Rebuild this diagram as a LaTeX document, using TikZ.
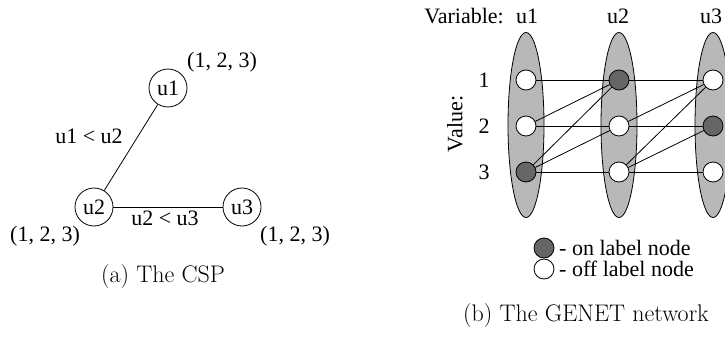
\documentclass[tikz,border=0pt]{standalone}
\usepackage{fontspec}
\newfontfamily\tms{Liberation Serif}
\usetikzlibrary{shapes.geometric}
\tikzset{
  glbl/.style={font=\tms\fontsize{22}{26}\selectfont, inner sep=0pt},
  gcaption/.style={font=\fontsize{24}{28}\selectfont, inner sep=0pt},
  gvar/.style={circle, draw, line width=0.8pt, minimum size=38pt, inner sep=0pt, font=\tms\fontsize{22}{26}\selectfont},
  gconn/.style={line width=0.8pt},
  gdom/.style={ellipse, draw, line width=0.8pt, fill=black!28, minimum width=36pt, minimum height=185pt, inner sep=0pt},
  goff/.style={circle, draw, line width=0.8pt, fill=white, minimum size=20pt, inner sep=0pt},
  gon/.style={circle, draw, line width=0.8pt, fill=black!60, minimum size=20pt, inner sep=0pt},
}
\begin{document}
\begin{tikzpicture}[x=1pt, y=-1pt]
\useasboundingbox (0,0) rectangle (725,337);
\clip (0,0) rectangle (725,337);
% (a) The CSP
\node[gvar] (u1) at (168,88) {u1};
\node[gvar] (u2) at (94,207) {u2};
\node[gvar] (u3) at (242,207) {u3};
\draw[gconn] (u1) -- (u2);
\draw[gconn] (u2) -- (u3);
\node[glbl] (d1) at (222,62) {(1, 2, 3)};
\node[glbl] (d2) at (45,236) {(1, 2, 3)};
\node[glbl] (d3) at (295,236) {(1, 2, 3)};
\node[glbl] (c12) at (89,136) {u1 < u2};
\node[glbl] (c23) at (165,218) {u2 < u3};
\node[gcaption] (capa) at (163,277) {(a) The CSP};
% (b) GENET
\node[glbl, anchor=east] (vart) at (504,16) {Variable:};
\node[glbl] (h1) at (527,16) {u1};
\node[glbl] (h2) at (618,16) {u2};
\node[glbl] (h3) at (711,16) {u3};
\node[gdom] (e1) at (526,125) {};
\node[gdom] (e2) at (619,125) {};
\node[gdom] (e3) at (713,125) {};
\node[glbl] (r1) at (484,80) {1};
\node[glbl] (r2) at (484,126) {2};
\node[glbl] (r3) at (484,172) {3};
\node[glbl, rotate=90] (valt) at (455,124) {Value:};
\node[goff] (a1) at (526,80) {};
\node[goff] (a2) at (526,126) {};
\node[gon]  (a3) at (526,172) {};
\node[gon]  (b1) at (619,80) {};
\node[goff] (b2) at (619,126) {};
\node[goff] (b3) at (619,172) {};
\node[goff] (c1) at (713,80) {};
\node[gon]  (c2) at (713,126) {};
\node[goff] (c3) at (713,172) {};
\foreach \i/\j in {1/1,2/1,2/2,3/1,3/2,3/3}{
  \draw[gconn] (a\i) -- (b\j);
  \draw[gconn] (b\i) -- (c\j);
}
% legend
\node[gon]  (lon) at (544,248) {};
\node[goff] (loff) at (544,269) {};
\node[glbl, anchor=west] (lont) at (559,248) {- on label node};
\node[glbl, anchor=west] (lofft) at (559,269) {- off label node};
\node[gcaption] (capb) at (586,316) {(b) The GENET network};
\end{tikzpicture}
\end{document}
